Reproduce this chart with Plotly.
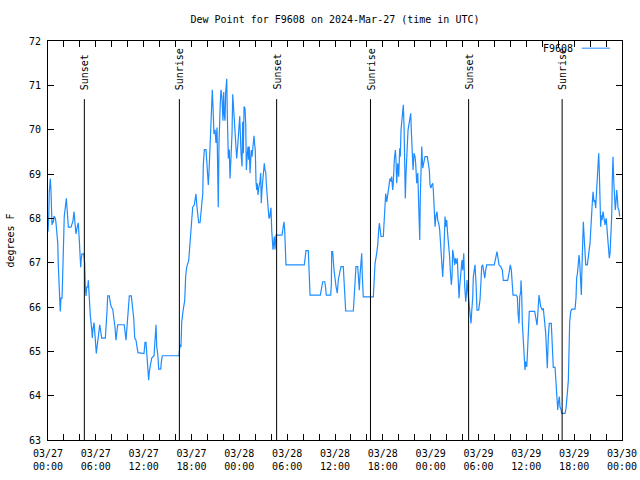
import plotly.graph_objects as go
import pandas as pd

# Hours since 2024-03-27 00:00 UTC and dew point (deg F)
hours = [
    0.00, 0.09, 0.16, 0.29, 0.38, 0.50, 0.59, 0.66, 0.75, 0.92, 1.00, 1.13, 1.22, 1.29, 1.42, 1.54, 1.63, 1.76, 1.84, 1.97,
    2.04, 2.17, 2.30, 2.38, 2.47, 2.55, 2.89, 3.05, 3.14, 3.26, 3.35, 3.42, 3.51, 3.60, 3.68, 3.80, 3.93, 4.01, 4.10, 4.18,
    4.26, 4.48, 4.60, 4.68, 4.77, 4.85, 4.98, 5.06, 5.18, 5.31, 5.48, 5.56, 5.64, 5.77, 5.86, 5.98, 6.06, 6.15, 6.27, 6.36,
    6.49, 6.61, 6.74, 7.19, 7.31, 7.40, 7.49, 7.69, 7.81, 7.94, 8.12, 8.28, 8.40, 8.53, 8.62, 8.74, 9.57, 9.66, 9.78, 9.91,
    10.04, 10.20, 10.45, 10.57, 10.75, 10.88, 11.04, 11.16, 11.29, 12.04,
    12.17, 12.29, 12.38, 12.51, 12.63, 12.71, 12.88, 13.01, 13.30, 13.42, 13.55, 13.64, 13.76, 13.89, 14.14, 14.21, 14.34, 16.43,
    16.56, 16.68, 16.77, 16.93, 17.15, 17.27, 17.40, 17.65, 17.77, 17.90, 18.03, 18.15, 18.35, 18.48, 18.56, 18.69, 18.78, 18.90,
    19.07, 19.19, 19.28, 19.41, 19.48, 19.61, 19.82, 19.91, 20.03, 20.11, 20.20, 20.32, 20.41, 20.53, 20.61, 20.70, 20.82, 20.95,
    21.07, 21.20, 21.29, 21.36, 21.45, 21.54, 21.61, 21.70, 21.83, 21.95, 22.04, 22.11, 22.20, 22.29, 22.42, 22.49, 22.62, 22.74,
    22.83, 22.96, 23.08, 23.17, 23.30, 23.46, 23.55, 23.67, 23.80, 23.92, 24.05,
    24.21, 24.34, 24.42, 24.50, 24.59, 24.71, 24.80, 24.88, 25.00, 25.09, 25.17, 25.25, 25.34, 25.43, 25.50, 25.59, 25.68, 25.75,
    25.84, 25.93, 26.00, 26.09, 26.18, 26.25, 26.34, 26.43, 26.51, 26.59, 26.68, 26.75, 26.84, 26.93, 27.01, 27.13, 27.22, 27.31,
    27.38, 27.47, 27.56, 27.63, 27.72, 27.81, 27.88, 27.97, 28.06, 28.14, 28.22, 28.31, 28.39, 28.47, 28.60, 29.35, 29.44, 29.52,
    29.60, 29.69, 29.77, 29.85, 32.15, 32.24, 32.36, 32.65, 32.74, 32.87, 34.16, 34.33, 34.46, 34.71, 34.78, 34.91, 35.46, 35.54,
    35.59, 35.71, 35.88, 36.13, 36.29, 36.41, 36.63, 36.75, 37.04, 37.13, 37.26, 37.34, 38.30, 38.38, 38.51, 38.63, 38.85, 38.92,
    39.05, 39.14, 39.23, 39.35, 39.43, 39.55, 40.81, 40.93, 41.02, 41.23, 41.36, 41.48, 41.56, 41.65, 41.77, 42.06, 42.15, 42.27,
    42.36, 42.49, 42.69, 42.90, 43.03, 43.11, 43.24, 43.31, 43.44, 43.57, 43.65, 43.74, 43.87, 43.99, 44.12, 44.19, 44.28, 44.41,
    44.49, 44.57, 44.66, 44.74, 44.82, 44.91, 45.03, 45.16, 45.37, 45.50, 45.57, 45.70, 45.79, 45.91, 46.04, 46.12, 46.25, 46.38,
    46.50, 46.58, 46.63, 46.70, 46.79, 46.88, 47.00, 47.16, 47.29, 47.58, 47.67, 47.83,
    47.92, 48.04, 48.13, 48.26, 48.33, 48.46, 48.55, 48.67, 48.80, 48.88, 49.01, 49.13, 49.21, 49.34, 49.42, 49.51, 49.64, 49.71,
    49.80, 49.92, 50.01, 50.09, 50.18, 50.26, 50.39, 50.46, 50.59, 50.68, 50.76, 50.89, 51.01, 51.09, 51.22, 51.34, 51.43, 51.56,
    51.64, 51.77, 51.84, 51.93, 52.02, 52.15, 52.27, 52.40, 52.47, 52.56, 52.65, 52.77, 52.90, 52.97, 53.06, 53.15, 53.27, 53.35,
    53.47, 53.56, 53.69, 53.81, 54.02, 54.19, 54.32, 54.40, 54.53, 54.65, 54.78, 54.90, 55.03, 55.98, 56.20, 56.32, 56.45, 56.57,
    56.79, 56.99, 57.11, 57.66, 57.86, 57.99, 58.12, 58.20, 58.33, 58.71, 58.87, 58.96, 59.08, 59.17, 59.30, 59.33, 59.42, 59.50,
    59.62, 59.71, 59.83, 59.92, 60.05, 60.12, 60.21, 60.30, 60.37, 61.05, 61.18, 61.25, 61.34, 61.43, 61.50, 61.59, 61.68, 61.80,
    62.00, 62.13, 62.21, 62.30, 62.43, 62.55, 62.63, 62.76, 62.88, 63.13, 63.22, 63.31, 63.38, 63.60, 63.68, 63.81, 63.94, 64.01,
    64.14, 64.22, 64.35, 64.44, 64.85, 64.98, 65.07, 65.14, 65.27, 65.35, 65.44, 65.57, 65.69, 66.11, 66.23, 66.32, 66.39, 66.52,
    66.61, 66.69, 66.77, 66.90, 66.98, 67.07, 67.15, 67.24, 67.36, 67.45, 67.65, 67.78, 67.86, 67.99, 68.08, 68.15, 68.28, 68.37,
    68.49, 68.58, 68.70, 68.83, 68.90, 68.99, 69.08, 69.15, 69.24, 69.33, 69.41, 69.49, 69.62, 69.74, 69.87, 69.96, 70.03, 70.16,
    70.29, 70.41, 70.50, 70.62, 70.71, 70.78, 70.87, 70.96, 71.08, 71.16, 71.25, 71.33, 71.41, 71.50, 71.62, 71.71,
]
dew = [
    67.7, 68.0, 68.6, 68.9, 68.6, 67.85, 67.95, 67.9, 68.05, 68.0, 67.9, 67.7, 67.45, 66.95, 66.3, 65.9, 66.2, 66.2, 66.7, 67.5,
    68.05, 68.25, 68.45, 68.25, 67.95, 67.8, 67.8, 67.9, 67.95, 68.15, 67.95, 67.85, 67.65, 67.75, 67.8, 67.9, 67.5, 67.15, 66.9, 67.1,
    67.2, 67.2, 67.0, 66.45, 66.25, 66.45, 66.45, 66.6, 66.1, 65.8, 65.5, 65.3, 65.5, 65.65, 65.45, 65.15, 64.95, 65.1, 65.4, 65.4,
    65.6, 65.4, 65.3, 65.3, 65.55, 65.9, 66.25, 66.25, 66.1, 66.0, 65.95, 65.75, 65.55, 65.25, 65.45, 65.6, 65.6, 65.4, 65.25, 65.55,
    66.0, 66.25, 66.25, 66.05, 65.75, 65.3, 65.25, 65.1, 64.97, 64.95,
    65.2, 65.2, 64.95, 64.55, 64.35, 64.55, 64.7, 64.85, 64.9, 65.4, 65.6, 65.1, 64.95, 64.6, 64.6, 64.75, 64.9, 64.9,
    65.15, 65.1, 65.65, 65.9, 66.15, 66.7, 66.9, 67.05, 67.4, 67.75, 68.05, 68.25, 68.3, 68.5, 68.55, 68.25, 68.1, 67.9,
    67.9, 68.1, 68.2, 68.55, 69.2, 69.55, 69.55, 69.3, 69.0, 68.75, 69.05, 69.6, 69.65, 70.5, 70.9, 70.5, 69.9, 70.0,
    69.7, 70.05, 68.7, 68.25, 69.7, 70.4, 70.6, 70.9, 70.7, 70.2, 70.85, 70.35, 70.2, 70.85, 71.15, 70.35, 69.35, 69.55,
    68.9, 69.4, 69.9, 70.8, 70.4, 70.1, 69.85, 69.35, 69.65, 69.95, 70.3,
    69.47, 69.17, 70.18, 69.47, 70.52, 70.48, 70.14, 69.09, 69.47, 69.62, 69.32, 69.62, 69.02, 69.24, 69.54, 69.39, 69.62, 69.77,
    69.86, 69.66, 69.54, 68.83, 68.64, 68.79, 68.53, 68.68, 68.75, 68.83, 69.02, 68.34, 68.64, 68.83, 68.94, 69.24, 69.09, 69.05,
    68.79, 68.49, 68.41, 68.19, 68.0, 68.02, 68.13, 68.24, 67.74, 67.51, 67.29, 67.44, 67.59, 67.3, 67.62, 67.62, 67.74, 67.81,
    67.92, 67.74, 67.44, 66.95, 66.95, 67.17, 67.27, 67.27, 66.95, 66.27, 66.27, 66.5, 66.57, 66.57, 66.5, 66.27, 66.27, 66.5,
    67.25, 67.25, 66.83, 66.46, 66.31, 66.61, 66.8, 66.91, 66.91, 66.68, 66.16, 65.91, 65.91, 66.16, 66.65, 66.91, 66.91, 66.68,
    66.38, 66.72, 66.95, 67.21, 66.68, 66.23, 66.23, 66.53, 66.98, 67.21, 67.4, 67.74, 67.89, 67.78, 67.59, 67.59, 67.85, 68.3,
    68.56, 68.37, 68.64, 68.9, 68.83, 68.94, 68.64, 68.79, 69.32, 69.54, 69.32, 68.79, 69.24, 68.94, 69.58, 69.39, 69.99, 70.22,
    70.41, 70.56, 70.07, 69.17, 68.45, 69.02, 69.69, 69.99, 70.22, 70.37, 69.99, 69.32, 69.09, 69.47, 69.39, 69.24, 68.79, 69.02,
    68.34, 67.89, 67.51, 68.49, 69.09, 69.62, 69.13, 69.28, 69.39, 69.39, 69.28, 69.09,
    68.75, 68.68, 68.75, 68.79, 68.64, 68.07, 67.81, 68.07, 68.15, 67.96, 67.89, 67.74, 67.51, 67.29, 66.91, 66.68, 67.13, 67.44,
    68.04, 67.81, 67.96, 67.74, 67.59, 67.4, 67.1, 66.83, 66.5, 66.68, 67.29, 67.13, 66.95, 67.1, 66.98, 67.1, 66.46, 66.2,
    66.46, 66.68, 66.91, 67.06, 66.83, 67.21, 66.46, 66.12, 66.27, 66.61, 66.38, 66.16, 65.93, 65.78, 65.63, 65.9, 66.2, 66.68,
    66.87, 66.95, 66.53, 65.93, 65.93, 66.16, 66.61, 66.91, 66.95, 66.8, 66.65, 66.83, 66.95, 66.95, 67.17, 67.25, 67.1, 66.95,
    66.91, 66.83, 66.6, 66.6, 66.8, 66.95, 66.83, 66.68, 66.27, 66.27, 66.23, 65.86, 65.63, 66.23, 66.35, 66.6, 66.27, 65.63,
    65.1, 64.8, 64.58, 64.77, 64.65, 64.88, 65.18, 65.67, 65.9, 65.9, 65.78, 65.67, 65.59, 65.82, 66.08, 66.27, 66.16, 66.01,
    65.93, 65.97, 65.82, 65.67, 65.41, 64.95, 64.62, 65.33, 65.63, 65.63, 65.25, 64.88, 64.64, 64.64, 64.39, 63.9, 63.68, 63.83,
    63.98, 63.75, 63.69, 63.6, 63.6, 63.71, 63.83, 64.05, 64.35, 65.18, 65.67, 65.9, 65.95, 65.95, 66.2, 66.68, 66.72, 66.98,
    67.17, 67.02, 66.57, 66.27, 66.91, 67.51, 67.92, 67.62, 67.21, 66.95, 66.95, 67.13, 67.17, 67.44, 67.74, 68.07, 68.37, 68.6,
    68.37, 68.41, 68.23, 68.68, 69.0, 69.32, 69.47, 69.09, 68.56, 67.81, 68.07, 67.96, 68.15, 67.96, 67.85, 67.96, 68.0, 67.66,
    67.32, 67.1, 67.21, 67.81, 68.04, 68.86, 69.39, 68.86, 68.41, 68.19, 68.37, 68.64, 68.49, 68.23, 68.19, 68.04,
]

sun_events = ["Sunset", "Sunrise", "Sunset", "Sunrise", "Sunset", "Sunrise"]
sun_event_hours = [4.56, 16.48, 28.68, 40.45, 52.76, 64.49]

station = "F9608"
title_text = "Dew Point for F9608 on 2024-Mar-27 (time in UTC)"
y_label = "degrees F"

base = pd.Timestamp("2024-03-27 00:00")
times = [base + pd.Timedelta(hours=h) for h in hours]
event_times = [base + pd.Timedelta(hours=h) for h in sun_event_hours]

FONT = "DejaVu Sans Mono"
LINE_COLOR = "#1e8cff"

fig = go.Figure()
fig.add_trace(go.Scatter(x=times, y=dew, mode="lines", name=station,
                         line=dict(color=LINE_COLOR, width=1.2), showlegend=False))

for name, t in zip(sun_events, event_times):
    fig.add_shape(type="line", xref="x", yref="y", x0=t, x1=t, y0=63, y1=70.69,
                  line=dict(color="black", width=1))
    fig.add_annotation(x=t, y=70.85, xref="x", yref="y", text=name, textangle=-90,
                       showarrow=False, xanchor="center", yanchor="bottom", xshift=1,
                       font=dict(family=FONT, size=10, color="black"))

# legend (gnuplot style: text then sample line)
fig.add_annotation(x=0.918, y=0.982, xref="paper", yref="paper", text=station, showarrow=False,
                   xanchor="right", yanchor="middle", font=dict(family=FONT, size=10, color="black"))
fig.add_shape(type="line", xref="paper", yref="paper", x0=0.930, x1=0.979, y0=0.982, y1=0.982,
              line=dict(color=LINE_COLOR, width=1))

fig.add_annotation(x=-0.066, y=0.5, xref="paper", yref="paper", text=y_label, textangle=-90,
                   showarrow=False, xanchor="center", yanchor="middle",
                   font=dict(family=FONT, size=10, color="black"))

fig.update_layout(
    width=640, height=480,
    margin=dict(l=48, r=18, t=41, b=40),
    paper_bgcolor="white", plot_bgcolor="white",
    font=dict(family=FONT, size=10, color="black"),
    title=dict(text=title_text, xref="paper", x=0.5, xanchor="center", y=1 - 19 / 480, yanchor="middle",
               font=dict(family=FONT, size=10, color="black")),
    showlegend=False,
)
fig.update_xaxes(
    type="date", automargin=False,
    range=[base, base + pd.Timedelta(hours=72)],
    tick0=base, dtick=6 * 3600 * 1000, tickformat="%m/%d<br>%H:%M",
    ticks="inside", ticklen=6, tickcolor="black", tickwidth=1,
    minor=dict(dtick=2 * 3600 * 1000, ticks="inside", ticklen=6, tickcolor="black", showgrid=False),
    showline=True, linecolor="black", linewidth=1, mirror="allticks",
    showgrid=False, zeroline=False, ticklabelstandoff=4,
)
fig.update_yaxes(
    range=[63, 72], tick0=63, dtick=1, automargin=False,
    ticks="inside", ticklen=6, tickcolor="black", tickwidth=1,
    showline=True, linecolor="black", linewidth=1, mirror="allticks",
    showgrid=False, zeroline=False, ticklabelstandoff=4,
)

fig.write_html("out.html", config={"displayModeBar": False},
               post_script="document.body.style.margin='0';")
